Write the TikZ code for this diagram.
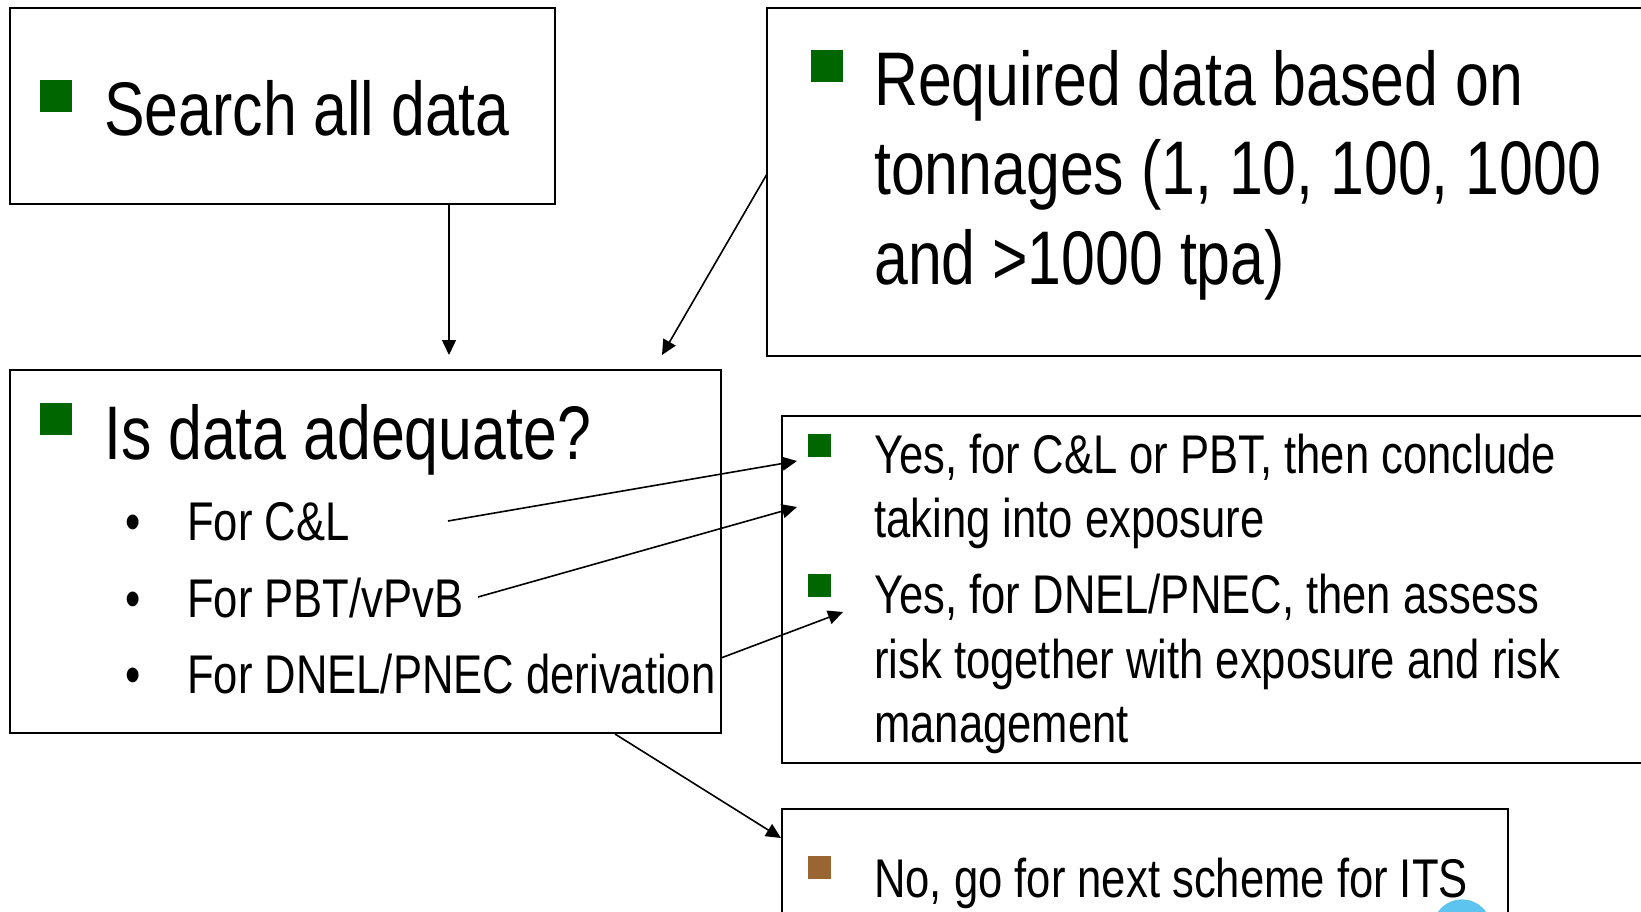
\documentclass[tikz,border=0pt]{standalone}
\usepackage{fontspec}
\setmainfont[FakeStretch=0.8]{Liberation Sans}
\usetikzlibrary{arrows.meta}
\definecolor{bulgreen}{HTML}{006600}
\definecolor{bulbrown}{HTML}{996633}
\definecolor{dotblue}{HTML}{5CC4EE}
\begin{document}
\begin{tikzpicture}[x=1pt,y=-1pt,
  box/.style={draw=black,line width=1.8pt,inner sep=0pt,outer sep=0pt,anchor=north west},
  gsq/.style={fill=bulgreen,inner sep=0pt,outer sep=0pt,anchor=north west},
  bsq/.style={fill=bulbrown,inner sep=0pt,outer sep=0pt,anchor=north west},
  ttl/.style={font=\fontsize{76}{91}\selectfont,inner sep=0pt,anchor=base west},
  bod/.style={font=\fontsize{54.5}{64}\selectfont,inner sep=0pt,anchor=base west},
  arr/.style={draw=black,line width=1.6pt,-{Triangle[length=15pt,width=14pt]}}]
\useasboundingbox (0,0) rectangle (1641,912);
\clip (0,0) rectangle (1641,912);
\fill[white] (0,0) rectangle (1641,912);

% boxes
\node[box,minimum width=545pt,minimum height=196pt] (b1) at (10,8) {};
\node[box,minimum width=900pt,minimum height=348pt] (b2) at (767,8) {};
\node[box,minimum width=711pt,minimum height=363pt] (b3) at (10,370) {};
\node[box,minimum width=880pt,minimum height=347pt] (b4) at (782,416) {};
\node[box,minimum width=726pt,minimum height=150pt] (b5) at (782,809) {};

% bullets
\node[gsq,minimum size=32pt] (q1) at (40,80) {};
\node[gsq,minimum size=32pt] (q2) at (811,50) {};
\node[gsq,minimum size=32pt] (q3) at (40,403) {};
\node[gsq,minimum size=23pt] (q4) at (808,434) {};
\node[gsq,minimum size=23pt] (q5) at (808,574) {};
\node[bsq,minimum size=23pt] (q6) at (808,856) {};

% texts
\node[ttl] (t1) at (104,136) {Search all data};
\node[ttl] (t2a) at (874,106) {Required data based on};
\node[ttl] (t2b) at (874,195) {tonnages (1, 10, 100, 1000};
\node[ttl] (t2c) at (874,284) {and >1000 tpa)};
\node[ttl] (t3) at (104,459) {Is data adequate?};
\node[bod] (d1) at (125,540) {•};
\node[bod] (d2) at (125,617) {•};
\node[bod] (d3) at (125,693) {•};
\node[bod] (s1) at (187,540) {For C\&L};
\node[bod] (s2) at (187,617) {For PBT/vPvB};
\node[bod] (s3) at (187,693) {For DNEL/PNEC derivation};
\node[bod] (y1a) at (874,473) {Yes, for C\&L or PBT, then conclude};
\node[bod] (y1b) at (874,537) {taking into exposure};
\node[bod] (y2a) at (874,613) {Yes, for DNEL/PNEC, then assess};
\node[bod] (y2b) at (874,678) {risk together with exposure and risk};
\node[bod] (y2c) at (874,742) {management};
\node[bod] (n1) at (874,897) {No, go for next scheme for ITS};

% arrow end points
\coordinate (a1e) at (449,355);
\coordinate (a2s) at (767,174);
\coordinate (a2e) at (662,355);
\coordinate (a3s) at (448,521);
\coordinate (a3e) at (797,461);
\coordinate (a4s) at (478,597);
\coordinate (a4e) at (797,507);
\coordinate (a5s) at (721,658);
\coordinate (a5e) at (843,612);
\coordinate (a6s) at (615,734);
\coordinate (a6e) at (781,838);

\draw[arr] (b1.south -| a1e) -- (a1e);
\draw[arr] (a2s) -- (a2e);
\draw[arr] (a3s) -- (a3e);
\draw[arr] (a4s) -- (a4e);
\draw[arr] (a5s) -- (a5e);
\draw[arr] (a6s) -- (a6e);

% partial blue circle at bottom edge
\fill[dotblue] (1462,929) circle (29.6);
\end{tikzpicture}
\end{document}
